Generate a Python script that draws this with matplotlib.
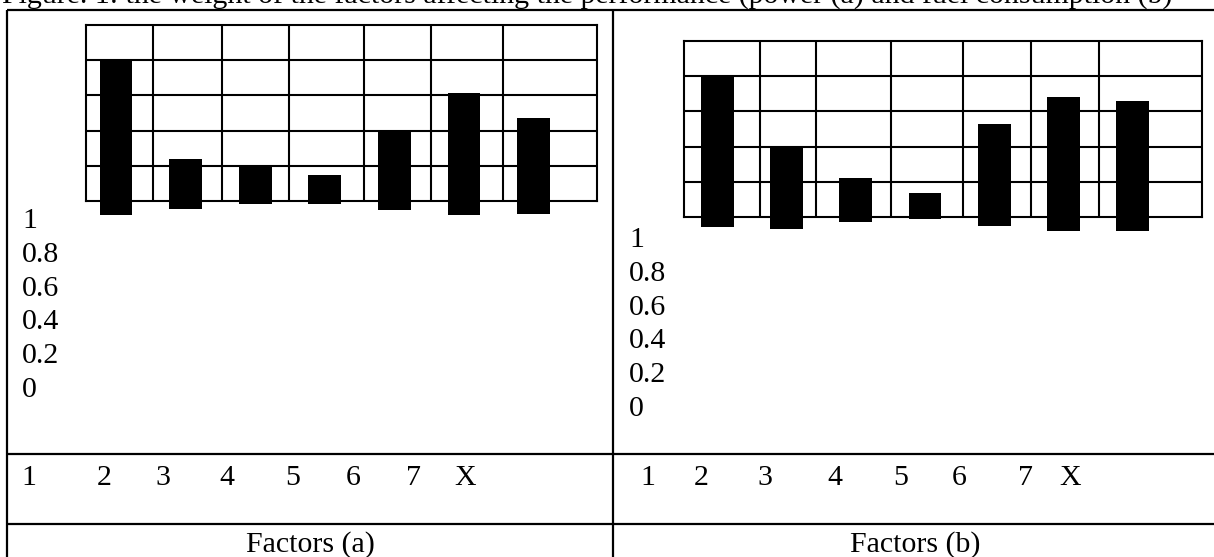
import numpy as np
import matplotlib.pyplot as plt
from matplotlib.lines import Line2D

# figure 1: weight of the factors (a) power, (b) fuel consumption
W, H = 1214, 557

title = "Figure. 1: the weight of the factors affecting the performance (power (a) and fuel consumption (b)"
factors = [1, 2, 3, 4, 5, 6, 7]
y_labels = ["1", "0.8", "0.6", "0.4", "0.2", "0"]
x_labels = ["1", "2", "3", "4", "5", "6", "7", "X"]
panel_titles = ["Factors (a)", "Factors (b)"]

# bars float: top and bottom of each bar (grid runs 0 .. 1)
top_a = [0.796, 0.239, 0.207, 0.147, 0.402, 0.613, 0.473]
bottom_a = [-0.080, -0.048, -0.019, -0.019, -0.051, -0.080, -0.076]
top_b = [0.808, 0.398, 0.219, 0.135, 0.528, 0.680, 0.657]
bottom_b = [-0.059, -0.068, -0.028, -0.011, -0.053, -0.080, -0.080]

plt.rcParams['font.family'] = ['Liberation Serif', 'DejaVu Serif']
FS = 21.5
LW = 1.5

fig = plt.figure(figsize=(W / 100, H / 100), dpi=100)


def fx(px):
  return px / W


def fy(py):
  return 1 - py / H


def fig_line(x0, y0, x1, y1):
  fig.add_artist(Line2D([fx(x0), fx(x1)], [fy(y0), fy(y1)], color="black",
                        lw=1.6, transform=fig.transFigure, solid_capstyle="butt"))


def panel(box, tops, bottoms, col_fracs, xlim):
  left, top, right, bottom = box
  ax = fig.add_axes([fx(left), fy(bottom), fx(right - left), (bottom - top) / H])
  x = np.arange(len(tops))
  heights = np.array(tops) - np.array(bottoms)
  ax.bar(x, heights, bottom=bottoms, width=0.47, color="black", zorder=3, clip_on=False)
  ax.set_xlim(*xlim)
  ax.set_ylim(0, 1)
  ax.set_yticks([0.2, 0.4, 0.6, 0.8])
  ax.yaxis.grid(True, color="black", lw=LW)
  for f in col_fracs:
    ax.plot([f, f], [0, 1], color="black", lw=LW, transform=ax.transAxes, zorder=1)
  ax.set_xticks([])
  ax.tick_params(left=False, labelleft=False)
  for s in ax.spines.values():
    s.set_linewidth(LW)
  return ax


# grid boxes in pixels: left, top, right, bottom
panel((86, 25, 597, 201), top_a, bottom_a,
      [0.131, 0.266, 0.397, 0.544, 0.675, 0.816], (-0.43, 6.91))
panel((684, 41, 1202, 217), top_b, bottom_b,
      [0.147, 0.255, 0.400, 0.539, 0.669, 0.801], (-0.48, 7.0))

# table frame
fig_line(7, 10, W, 10)
fig_line(7, 10, 7, H)
fig_line(613, 10, 613, H)
fig_line(7, 453.5, W, 453.5)
fig_line(7, 523.5, W, 523.5)

fig.text(fx(2), fy(3.5), title, fontsize=FS, va="baseline", ha="left")

# misplaced y tick labels
for left_px, first in [(22, 228), (629, 247)]:
  for k, lab in enumerate(y_labels):
    fig.text(fx(left_px), fy(first + k * 33.8), lab, fontsize=FS, va="baseline", ha="left")

# x tick labels in the row under the charts
x_pos_a = [29, 104, 163, 227, 293, 353, 413, 465]
x_pos_b = [648, 701, 765, 835, 901, 959, 1025, 1070]
for xs in [x_pos_a, x_pos_b]:
  for xp, lab in zip(xs, x_labels):
    fig.text(fx(xp), fy(485), lab, fontsize=FS, va="baseline", ha="center")

for xc, lab in zip([310, 915], panel_titles):
  fig.text(fx(xc), fy(552), lab, fontsize=FS, va="baseline", ha="center")

fig.savefig("out.png", dpi=100)
